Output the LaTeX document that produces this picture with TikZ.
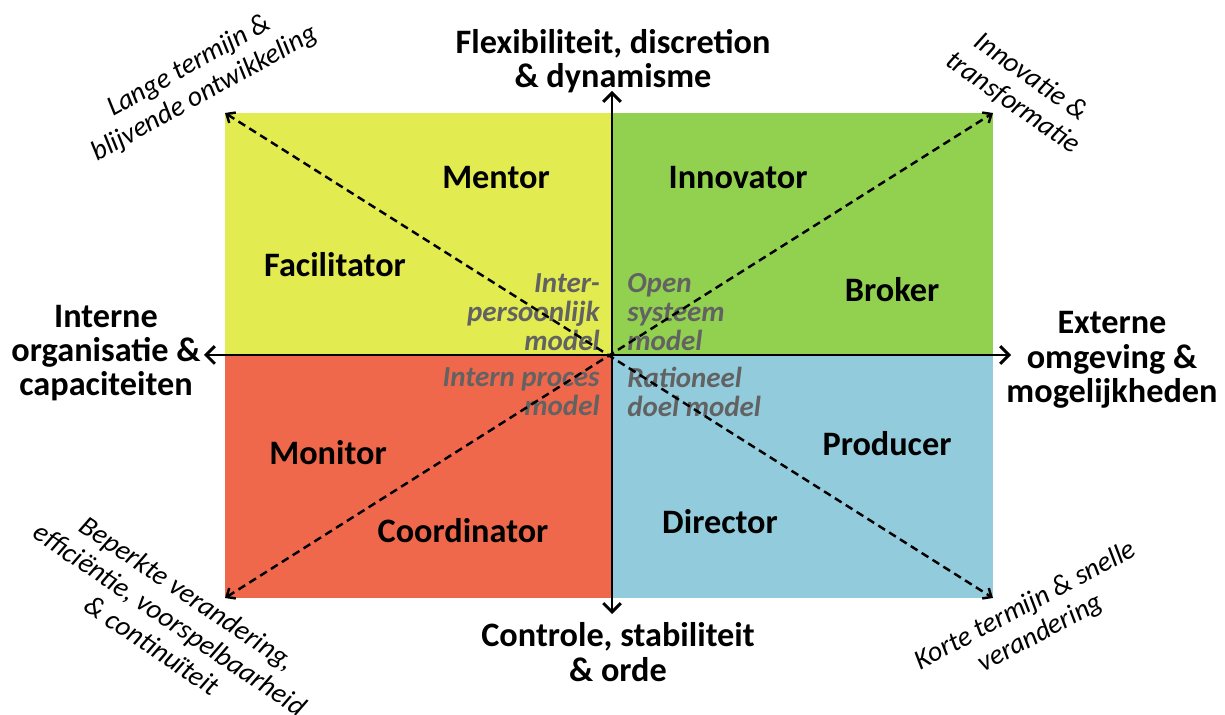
\documentclass[tikz,border=0pt]{standalone}
\usepackage{fontspec}
\setmainfont{Carlito}
\usetikzlibrary{arrows.meta}

\definecolor{kwgeel}{RGB}{226,235,80}
\definecolor{kwgroen}{RGB}{146,208,80}
\definecolor{kwrood}{RGB}{240,104,76}
\definecolor{kwblauw}{RGB}{146,204,220}
\definecolor{modelgrijs}{RGB}{98,98,98}

\tikzset{
  as/.style={line width=1.7pt,{Straight Barb[length=5pt,width=10pt]}-{Straight Barb[length=5pt,width=10pt]}},
  diag/.style={line width=1.4pt,dash pattern=on 4.5pt off 2.8pt,{Straight Barb[length=4pt,width=7pt]}-{Straight Barb[length=4pt,width=7pt]}},
  rol/.style={inner sep=0pt,font=\fontsize{19.5}{19.5}\selectfont\bfseries},
  kop/.style={rol,align=center},
  model/.style={inner sep=0pt,text=modelgrijs,font=\fontsize{16.5}{16.5}\selectfont\bfseries\itshape},
  hoek/.style={inner sep=0pt,align=center,font=\fontsize{16}{18}\selectfont\itshape}
}

\begin{document}
\begin{tikzpicture}[x=0.02cm,y=-0.02cm]
	\useasboundingbox (0,0) rectangle (1225,715);
	% vier kwadranten
	\coordinate (lb) at (225,113);
	\coordinate (rb) at (993,113);
	\coordinate (lo) at (225,598);
	\coordinate (ro) at (993,598);
	\coordinate (m) at (612,355);
	\fill[kwgeel] (lb) rectangle (m);
	\fill[kwgroen] (rb) rectangle (m);
	\fill[kwrood] (lo) rectangle (m);
	\fill[kwblauw] (ro) rectangle (m);
	% modellen
	\node[model,anchor=east,align=right] (ir) at (600,312) {Inter-\\persoonlijk\\model};
	\node[model,anchor=west,align=left] (os) at (627,312) {Open\\systeem\\model};
	\node[model,anchor=east,align=right] (ip) at (600,392) {Intern proces\\model};
	\node[model,anchor=west,align=left] (rd) at (627,392) {Rationeel\\doel model};
	% diagonalen en assen
	\draw[diag] (lb) -- (ro);
	\draw[diag] (lo) -- (rb);
	\coordinate (an) at (612,91);
	\coordinate (az) at (612,614);
	\coordinate (aw) at (204,355);
	\coordinate (ao) at (1011,355);
	\draw[as] (an) -- (az);
	\draw[as] (aw) -- (ao);
	% assen
	\node[kop] (flex) at (613,61) {Flexibiliteit, discretion\\\& dynamisme};
	\node[kop] (contr) at (618,652) {Controle, stabiliteit\\\& orde};
	\node[kop] (intern) at (106,353) {Interne\\organisatie \&\\capaciteiten};
	\node[kop] (extern) at (1112,360) {Externe\\omgeving \&\\mogelijkheden};
	% rollen
	\node[rol] (mentor) at (496,178) {Mentor};
	\node[rol] (innov) at (738,178) {Innovator};
	\node[rol] (facil) at (335,265) {Facilitator};
	\node[rol] (broker) at (892,290) {Broker};
	\node[rol] (monit) at (328,453) {Monitor};
	\node[rol] (produc) at (887,444) {Producer};
	\node[rol] (coord) at (463,531) {Coordinator};
	\node[rol] (direc) at (720,522) {Director};
	% hoeken
	\node[hoek,rotate=29] (lang) at (197,80) {Lange termijn \&\\blijvende ontwikkeling};
	\node[hoek,rotate=-35] (innotr) at (1022,90) {Innovatie \&\\transformatie};
	\node[hoek,rotate=-34] (beperkt) at (170,619) {Beperkte verandering,\\efficiëntie, voorspelbaarheid\\\& continuïteit};
	\node[hoek,rotate=28] (kort) at (1033,620) {Korte termijn \& snelle\\verandering};
\end{tikzpicture}
\end{document}
